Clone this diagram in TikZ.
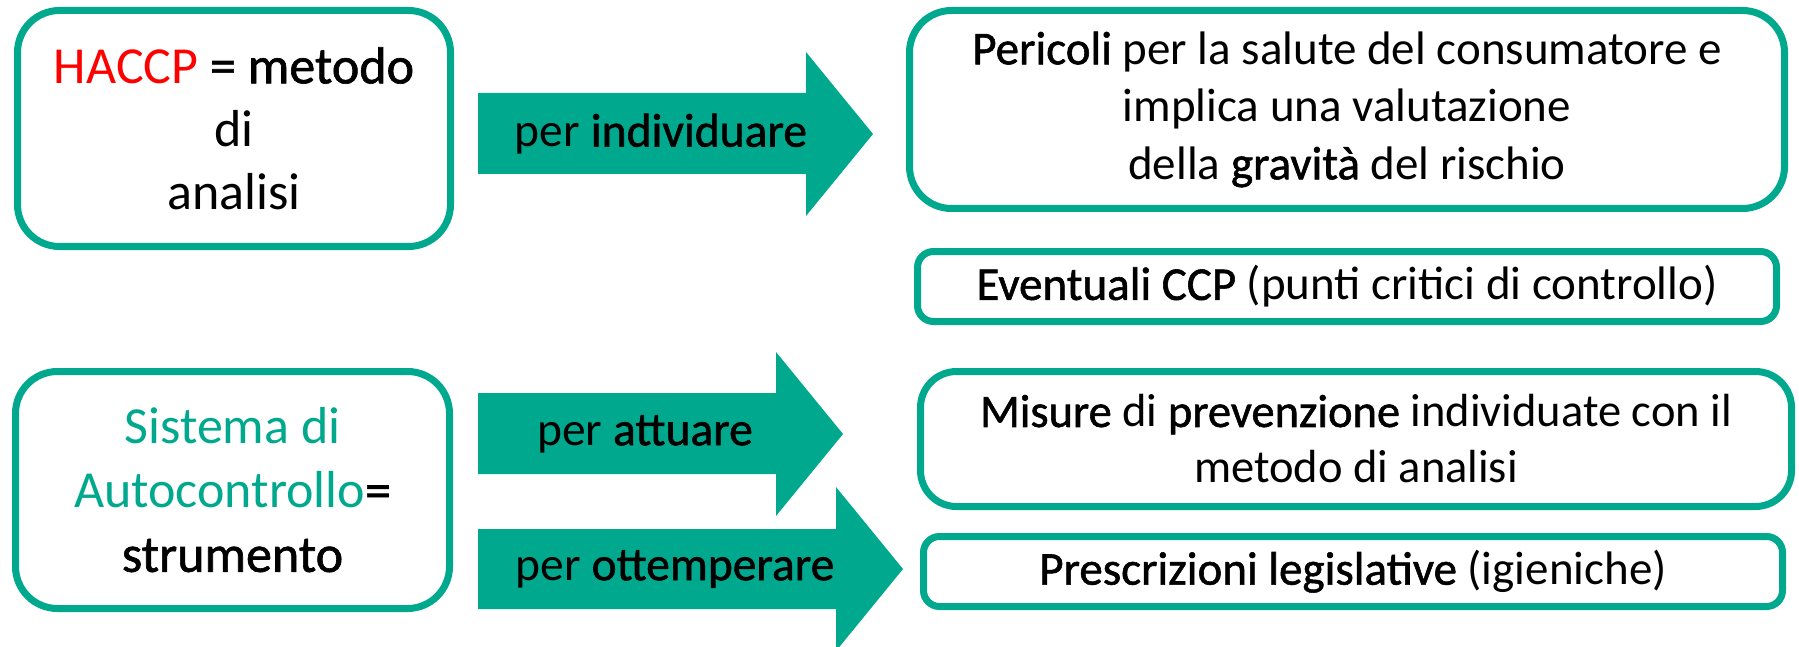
\documentclass[tikz,border=0pt]{standalone}
\usepackage{fontspec}
\setmainfont{Carlito}
\newfontfamily\emf[FakeBold=1.2]{Carlito}
\definecolor{tealc}{RGB}{0,168,142}
\definecolor{redc}{RGB}{255,0,0}
\tikzset{
  box/.style={draw=tealc, line width=7pt, fill=white, align=center, inner sep=0pt},
  bigbox/.style={box, rounded corners=42pt},
  smallbox/.style={box, rounded corners=16pt},
  arrowshape/.style={fill=tealc},
  arrowtxt/.style={inner sep=0pt, font=\fontsize{47.5}{58}\selectfont},
}
\begin{document}
\begin{tikzpicture}[x=1pt,y=-1pt]
\useasboundingbox (0,0) rectangle (1799,647);
\clip (0,0) rectangle (1799,647);
% boxes
\node[bigbox, minimum width=433pt, minimum height=236pt, font=\fontsize{52}{63}\selectfont] (haccp) at (234,128.5)
  {{\color{redc}HACCP} {\emf = metodo}\\ di\\ analisi};
\node[bigbox, minimum width=875pt, minimum height=198pt, font=\fontsize{47}{57.5}\selectfont] (pericoli) at (1347,109.5)
  {{\emf Pericoli} per la salute del consumatore e\\ implica una valutazione\\ della {\emf gravità} del rischio};
\node[smallbox, minimum width=859pt, minimum height=70pt, font=\fontsize{47}{57}\selectfont] (ccp) at (1347,286.5)
  {{\emf Eventuali CCP} (punti critici di controllo)};
\node[bigbox, minimum width=434pt, minimum height=237pt, font=\fontsize{52}{64}\selectfont] (sistema) at (232.5,490)
  {{\color{tealc}Sistema di}\\ {\color{tealc}Autocontrollo}{\emf =}\\ {\emf strumento}};
\node[bigbox, rounded corners=36pt, minimum width=871pt, minimum height=135pt, font=\fontsize{46.5}{56}\selectfont] (misure) at (1356,439)
  {{\emf Misure} di {\emf prevenzione} individuate con il\\ metodo di analisi};
\node[smallbox, minimum width=859pt, minimum height=70pt, font=\fontsize{47}{57}\selectfont] (prescr) at (1353,571.5)
  {{\emf Prescrizioni legislative} (igieniche)};
% block arrows
\fill[arrowshape] (478,93) -- (806,93) -- (806,52) -- (873,134) -- (806,216) -- (806,174) -- (478,174) -- cycle;
\node[arrowtxt] (a1) at (661,134) {per {\emf individuare}};
\fill[arrowshape] (478,393) -- (776,393) -- (776,352) -- (843,434) -- (776,516) -- (776,474) -- (478,474) -- cycle;
\node[arrowtxt] (a2) at (645,434) {per {\emf attuare}};
\fill[arrowshape] (478,529) -- (836,529) -- (836,487) -- (903,569) -- (836,651) -- (836,609) -- (478,609) -- cycle;
\node[arrowtxt] (a3) at (675,569) {per {\emf ottemperare}};
\end{tikzpicture}
\end{document}
